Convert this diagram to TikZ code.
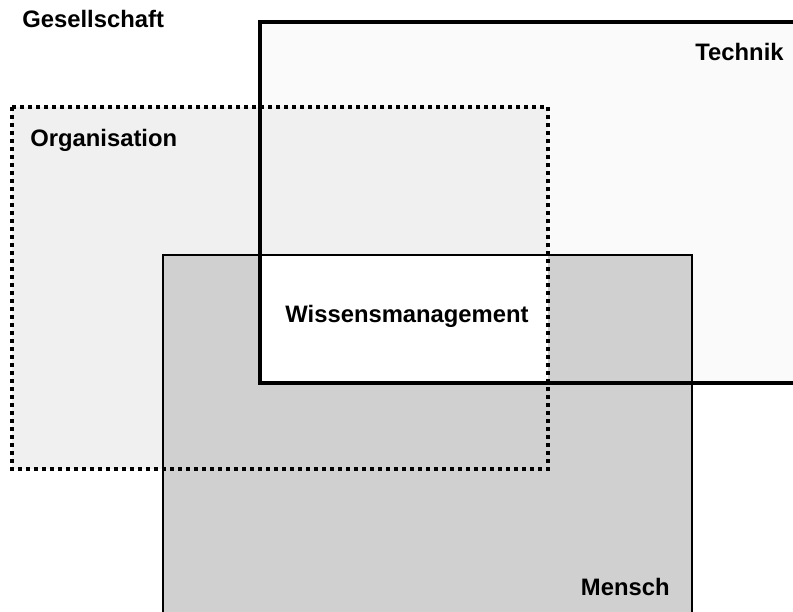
\documentclass[tikz,border=0pt]{standalone}
\usepackage{fontspec}
\setmainfont{Liberation Sans}
\definecolor{techgrey}{HTML}{FAFAFA}
\definecolor{orggrey}{HTML}{F0F0F0}
\definecolor{menschgrey}{HTML}{D0D0D0}
\tikzset{
  label/.style={font=\fontsize{11.9}{14}\selectfont\bfseries, inner sep=0pt},
  thickline/.style={line width=2pt},
  thinline/.style={line width=1pt},
  dotline/.style={line width=2pt, dash pattern=on 2pt off 2pt}
}
\begin{document}
\begin{tikzpicture}[x=0.5pt,y=-0.5pt]
            \useasboundingbox (0,0) rectangle (793,611);
            \clip (0,0) rectangle (793,611);
            % areas
            \fill[techgrey] (260,22) rectangle (820,383);
            \fill[orggrey] (12,107) rectangle (548,469);
            \fill[menschgrey] (163,255) rectangle (692,630);
            \fill[white] (260,255) rectangle (548,383);
            % outlines
            \draw[thinline] (163,630)--(163,255)--(692,255)--(692,630);
            \draw[thickline] (820,22)--(260,22)--(260,383)--(820,383);
            \draw[dotline] (12,107) rectangle (548,469);
            % labels
            \node[label,anchor=west] (gesellschaft) at (22,19) {Gesellschaft};
            \node[label,anchor=east] (technik) at (784,52) {Technik};
            \node[label,anchor=west] (organisation) at (30,140) {Organisation};
            \node[label] (wissen) at (407,316) {Wissensmanagement};
            \node[label,anchor=east] (mensch) at (670,587) {Mensch};
        \end{tikzpicture}
\end{document}
